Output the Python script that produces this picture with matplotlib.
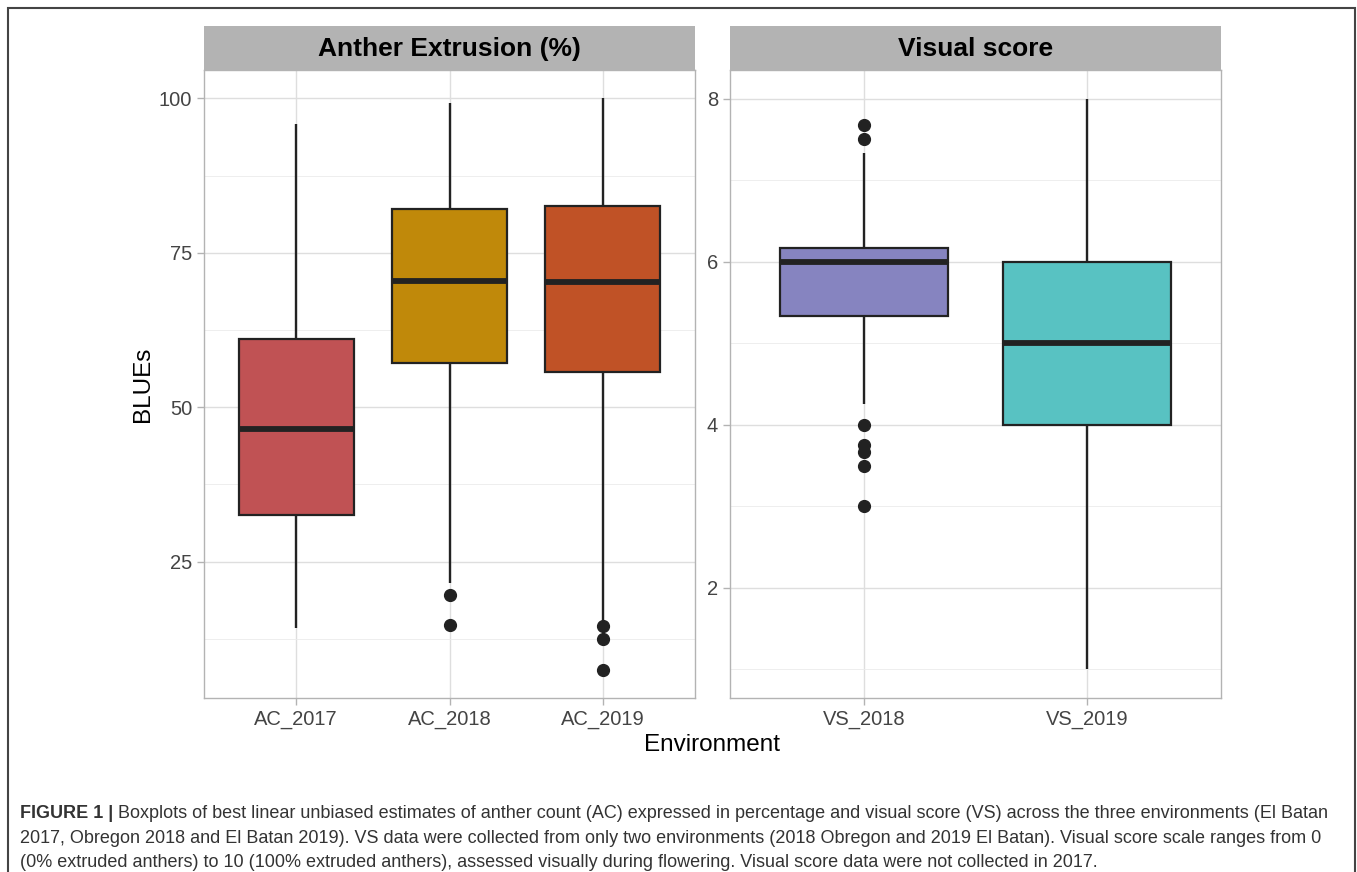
import matplotlib.pyplot as plt
from matplotlib.patches import Rectangle
from matplotlib.ticker import MultipleLocator

# Anther extrusion BLUEs (%)
ac_labels = ["AC_2017", "AC_2018", "AC_2019"]
ac_q1 = [32.6, 57.1, 55.7]
ac_med = [46.4, 70.5, 70.2]
ac_q3 = [61.1, 82.1, 82.6]
ac_lo = [14.2, 21.6, 15.2]
ac_hi = [95.8, 99.2, 100.0]
ac_out = [[], [19.5, 14.8], [14.5, 12.4, 7.5]]
ac_colors = ["#C05254", "#C0890A", "#C05226"]

# Visual score BLUEs
vs_labels = ["VS_2018", "VS_2019"]
vs_q1 = [5.33, 4.0]
vs_med = [6.0, 5.0]
vs_q3 = [6.17, 6.0]
vs_lo = [4.25, 1.0]
vs_hi = [7.33, 8.0]
vs_out = [[7.67, 7.5, 4.0, 3.75, 3.67, 3.5, 3.0], []]
vs_colors = ["#8684C0", "#58C2C2"]

caption_lines = [
    "Boxplots of best linear unbiased estimates of anther count (AC) expressed in percentage and visual score (VS) across the three environments (El Batan",
    "2017, Obregon 2018 and El Batan 2019). VS data were collected from only two environments (2018 Obregon and 2019 El Batan). Visual score scale ranges from 0",
    "(0% extruded anthers) to 10 (100% extruded anthers), assessed visually during flowering. Visual score data were not collected in 2017.",
]

plt.rcParams['font.family'] = ['Liberation Sans', 'DejaVu Sans']

W, H = 1357, 872
fig = plt.figure(figsize=(W / 100, H / 100), dpi=100)


def px(x0, y0, x1, y1):
    return [x0 / W, 1 - y1 / H, (x1 - x0) / W, (y1 - y0) / H]


def panel(rect, strip_rect, title, labels, q1, med, q3, lo, hi, out, colors,
          ylim, major, minor):
    ax = fig.add_axes(px(*rect))
    stats = []
    for i in range(len(labels)):
        stats.append(dict(q1=q1[i], med=med[i], q3=q3[i], whislo=lo[i],
                          whishi=hi[i], fliers=out[i], label=labels[i]))
    bp = ax.bxp(stats, positions=range(1, len(labels) + 1), widths=0.75,
                patch_artist=True, showcaps=False,
                boxprops=dict(edgecolor="#222222", linewidth=1.6),
                whiskerprops=dict(color="#222222", linewidth=1.7),
                medianprops=dict(color="#222222", linewidth=4.2),
                flierprops=dict(marker="o", markerfacecolor="#222222",
                                markeredgecolor="#222222", markersize=8.5))
    for b, c in zip(bp["boxes"], colors):
        b.set_facecolor(c)
    for w in bp["whiskers"]:
        w.set_solid_capstyle("butt")
    ax.set_xlim(0.4, len(labels) + 0.6)
    ax.set_ylim(*ylim)
    ax.yaxis.set_major_locator(MultipleLocator(major))
    ax.yaxis.set_minor_locator(MultipleLocator(minor))
    ax.set_axisbelow(True)
    ax.grid(which="major", color="#DEDEDE", linewidth=1.0)
    ax.grid(which="minor", axis="y", color="#EBEBEB", linewidth=0.6)
    ax.tick_params(which="major", colors="#B3B3B3", labelcolor="#444444",
                   labelsize=14.5, length=5, width=1.0)
    ax.tick_params(which="minor", length=0)
    for s in ax.spines.values():
        s.set_color("#B3B3B3")
        s.set_linewidth(1.0)
    sax = fig.add_axes(px(*strip_rect))
    sax.set_facecolor("#B3B3B3")
    sax.set_xticks([])
    sax.set_yticks([])
    for s in sax.spines.values():
        s.set_visible(False)
    sax.text(0.5, 0.47, title, ha="center", va="center", fontsize=19,
             fontweight="bold", color="black", transform=sax.transAxes)
    return ax


axl = panel((204, 70, 695, 698), (204, 26, 695, 70), "Anther Extrusion (%)",
            ac_labels, ac_q1, ac_med, ac_q3, ac_lo, ac_hi, ac_out, ac_colors,
            (2.9, 104.6), 25, 12.5)
axr = panel((730, 70, 1221, 698), (730, 26, 1221, 70), "Visual score",
            vs_labels, vs_q1, vs_med, vs_q3, vs_lo, vs_hi, vs_out, vs_colors,
            (0.65, 8.35), 2, 1)

fig.text(143 / W, 1 - 384 / H, "BLUEs", rotation=90, ha="center", va="center",
         fontsize=17.5, color="black")
fig.text(712 / W, 1 - 745 / H, "Environment", ha="center", va="center",
         fontsize=17.5, color="black")

# caption
fs = 13.0
t = fig.text(20 / W, 1 - 813 / H, "FIGURE 1 |", ha="left", va="center",
             fontsize=fs, fontweight="bold", color="#333333")
fig.canvas.draw()
bb = t.get_window_extent()
fig.text((bb.x1 + 5) / W, 1 - 813 / H, caption_lines[0], ha="left", va="center",
         fontsize=fs, color="#333333")
fig.text(20 / W, 1 - 838 / H, caption_lines[1], ha="left", va="center",
         fontsize=fs, color="#333333")
fig.text(20 / W, 1 - 862 / H, caption_lines[2], ha="left", va="center",
         fontsize=fs, color="#333333")

# outer frame
fig.patches.append(Rectangle((8 / W, -0.01), (1355 - 8) / W, 1 - 8 / H + 0.01,
                             transform=fig.transFigure, fill=False,
                             edgecolor="#444444", linewidth=1.5))

fig.savefig("out.png", dpi=100)
